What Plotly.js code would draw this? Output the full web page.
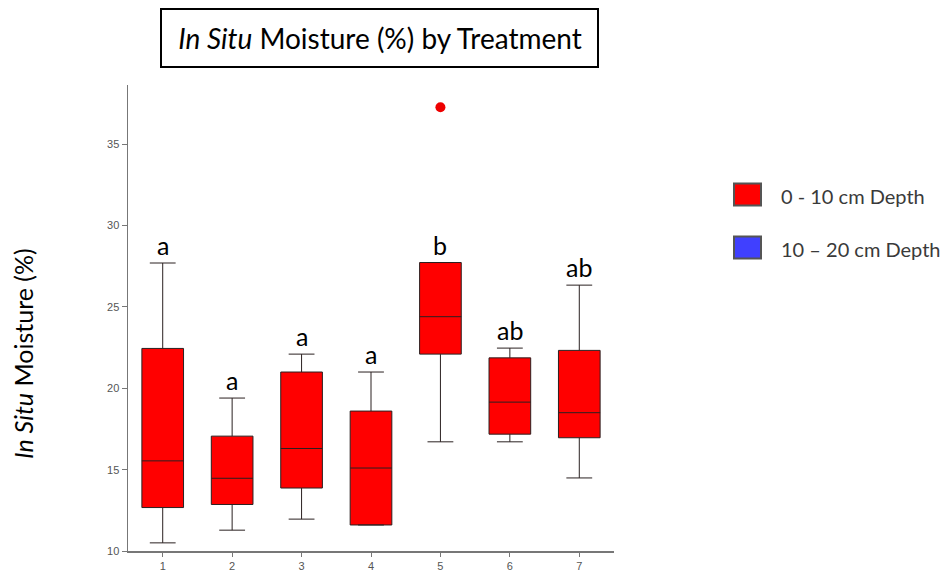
<!DOCTYPE html>
<html>
<head>
<meta charset="utf-8">
<script src="https://cdn.plot.ly/plotly-3.0.1.min.js"></script>
<style>html,body{margin:0;padding:0;background:#fff;}#chart{width:947px;height:573px;}</style>
</head>
<body>
<div id="chart"></div>
<script>
// ---- data ----
const treatments = [1, 2, 3, 4, 5, 6, 7];
const lowerFence = [10.5, 11.28, 11.96, 11.6, 16.71, 16.71, 14.49];
const q1Vals     = [12.67, 12.86, 13.87, 11.6, 22.1, 17.18, 16.96];
const medianVals = [15.54, 14.47, 16.3, 15.1, 24.4, 19.15, 18.5];
const q3Vals     = [22.45, 17.06, 21.0, 18.6, 27.73, 21.87, 22.33];
const upperFence = [27.7, 19.4, 22.1, 21.0, 27.73, 22.47, 26.34];
const outlierX = [5];
const outlierY = [37.27];
const groupLetters = ['a', 'a', 'a', 'a', 'b', 'ab', 'ab'];
const legendLabels = ['0 - 10 cm Depth', '10 \u2013 20 cm Depth'];
const legendColors = ['#ff0000', '#4040ff'];
const yTicks = [10, 15, 20, 25, 30, 35];

// ---- layout helpers ----
const W = 947, H = 573;
const ML = 128, MR = 333, MT = 85, MB = 22;
const PW = W - ML - MR, PH = H - MT - MB;
const px = x => (x - ML) / PW;
const py = y => (H - MB - y) / PH;
const calib = 'Lato, "Open Sans", sans-serif';

const boxTrace = {
  type: 'box',
  x: treatments,
  q1: q1Vals,
  median: medianVals,
  q3: q3Vals,
  lowerfence: lowerFence,
  upperfence: upperFence,
  fillcolor: '#ff0000',
  line: {color: '#2a2020', width: 1},
  width: 0.6,
  whiskerwidth: 0.62,
  boxpoints: false,
  showlegend: false,
  name: '0 - 10 cm Depth'
};

const outlierTrace = {
  type: 'scatter',
  mode: 'markers',
  x: outlierX,
  y: outlierY,
  marker: {color: '#ee0000', size: 10},
  showlegend: false,
  name: 'outlier'
};

const annotations = treatments.map((t, i) => ({
  x: t, y: upperFence[i], xref: 'x', yref: 'y',
  text: groupLetters[i], showarrow: false,
  yanchor: 'bottom', yshift: 1,
  font: {family: calib, size: 25, color: '#000'}
}));

// y-axis title, placed as in the reference (below the plot centre)
annotations.push({
  x: px(23), y: py(354), xref: 'paper', yref: 'paper',
  xanchor: 'center', yanchor: 'middle', showarrow: false,
  textangle: -90,
  text: '<i>In Situ</i> Moisture (%)',
  font: {family: calib, size: 25, color: '#000'}
});

const shapes = [{
  type: 'rect', xref: 'paper', yref: 'paper',
  x0: px(161), x1: px(598), y0: py(67), y1: py(9),
  line: {color: '#000', width: 2}, fillcolor: 'rgba(0,0,0,0)'
}];

const legendRows = [194.5, 247.5];
legendRows.forEach((cy, i) => {
  shapes.push({
    type: 'rect', xref: 'paper', yref: 'paper',
    x0: px(734), x1: px(761), y0: py(cy + 11), y1: py(cy - 11),
    line: {color: '#555', width: 2}, fillcolor: legendColors[i]
  });
  annotations.push({
    x: px(779), y: py(cy + 1), xref: 'paper', yref: 'paper',
    xanchor: 'left', yanchor: 'middle', showarrow: false,
    text: legendLabels[i],
    font: {family: calib, size: 20, color: '#3a3a3a'}
  });
});

const layout = {
  width: W, height: H,
  margin: {l: ML, r: MR, t: MT, b: MB, pad: 0},
  paper_bgcolor: '#fff', plot_bgcolor: '#fff',
  showlegend: false,
  title: {
    text: '<i>In Situ</i> Moisture (%) by Treatment',
    font: {family: calib, size: 28, color: '#000'},
    xref: 'paper', x: px(380), xanchor: 'center',
    yref: 'container', y: 1 - 39 / H, yanchor: 'middle'
  },
  xaxis: {
    range: [0.5, 7.5], tickvals: treatments, ticktext: treatments.map(String),
    ticks: 'outside', ticklen: 4, tickcolor: '#777', tickwidth: 1,
    showline: true, linecolor: '#777', linewidth: 1.5,
    showgrid: false, zeroline: false,
    tickfont: {family: 'Liberation Sans, Arial, sans-serif', size: 11, color: '#555'}
  },
  yaxis: {
    range: [10, 38.64], tickvals: yTicks,
    ticks: 'outside', ticklen: 5, tickcolor: '#777', tickwidth: 1,
    showline: true, linecolor: '#777', linewidth: 1.5,
    showgrid: false, zeroline: false,
    tickfont: {family: 'Liberation Sans, Arial, sans-serif', size: 11, color: '#555'}
  },
  annotations: annotations,
  shapes: shapes
};

Plotly.newPlot('chart', [boxTrace, outlierTrace], layout, {displayModeBar: false, staticPlot: true});
</script>
</body>
</html>
